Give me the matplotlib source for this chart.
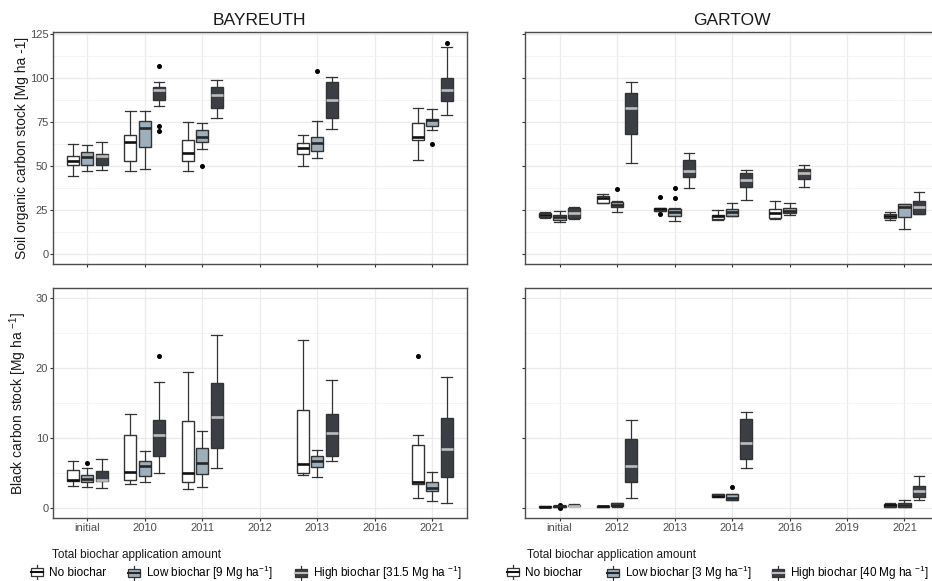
import matplotlib
matplotlib.use("Agg")
from matplotlib import pyplot as plt
from matplotlib.legend_handler import HandlerBase
from matplotlib.patches import Rectangle, Patch
from matplotlib.lines import Line2D

plt.rcParams['font.family'] = ['Liberation Sans', 'DejaVu Sans']
plt.rcParams['mathtext.fontset'] = 'custom'
plt.rcParams['mathtext.rm'] = 'Liberation Sans'
plt.rcParams['mathtext.default'] = 'regular'

# ---- data (whisker low, Q1, median, Q3, whisker high) ----
bay_years = ["initial", "2010", "2011", "2012", "2013", "2016", "2021"]
bay_present = ["initial", "2010", "2011", "2013", "2021"]
gar_years = ["initial", "2012", "2013", "2014", "2016", "2019", "2021"]
gar_soc_present = ["initial", "2012", "2013", "2014", "2016", "2021"]
gar_bc_present = ["initial", "2012", "2014", "2021"]

bay_soc_none = [[44.5, 50.5, 52.6, 55.7, 62.3], [47.1, 53.0, 63.3, 67.5, 81.3],
                [47.1, 53.0, 57.2, 65.0, 75.0], [50.2, 56.8, 60.0, 62.9, 67.6],
                [53.4, 64.6, 66.7, 74.3, 83.2]]
bay_soc_low = [[47.1, 50.5, 55.3, 57.8, 61.6], [48.1, 60.8, 71.8, 75.4, 81.3],
               [59.5, 63.3, 66.3, 70.3, 74.3], [54.3, 58.5, 62.9, 66.3, 75.4],
               [70.3, 72.8, 76.0, 76.8, 82.5]]
bay_soc_high = [[47.5, 50.7, 55.7, 56.8, 63.3], [83.8, 87.6, 92.9, 94.8, 97.7],
                [77.5, 82.8, 90.4, 94.8, 99.0], [70.9, 77.0, 87.6, 97.5, 100.3],
                [78.7, 87.0, 93.3, 99.9, 117.6]]
bay_soc_fl_none = [[], [], [], [], []]
bay_soc_fl_low = [[], [], [50.2], [103.7], [62.3]]
bay_soc_fl_high = [[], [106.6, 72.8, 69.9], [], [], [119.7]]

bay_bc_none = [[3.2, 3.9, 4.1, 5.4, 6.8], [3.5, 4.1, 5.2, 10.4, 13.4],
               [2.7, 3.7, 5.0, 12.4, 19.5], [4.7, 5.0, 6.3, 14.0, 24.0],
               [1.4, 3.5, 3.7, 9.0, 10.4]]
bay_bc_low = [[3.0, 3.7, 4.2, 4.7, 5.7], [3.7, 4.6, 6.1, 6.7, 8.2],
              [3.0, 4.9, 6.5, 8.6, 11.1], [4.4, 5.9, 6.8, 7.4, 8.3],
              [1.0, 2.4, 2.9, 3.7, 5.2]]
bay_bc_high = [[2.9, 3.9, 4.1, 5.3, 7.0], [5.1, 7.4, 10.4, 12.6, 18.1],
               [5.8, 8.6, 13.1, 17.9, 24.7], [6.8, 7.5, 10.8, 13.4, 18.3],
               [0.8, 4.4, 8.5, 12.9, 18.7]]
bay_bc_fl_none = [[], [], [], [], [21.8]]
bay_bc_fl_low = [[6.5], [], [], [], []]
bay_bc_fl_high = [[], [21.8], [], [], []]

gar_soc_none = [[20.5, 20.9, 22.0, 23.0, 23.6], [28.7, 29.1, 31.5, 33.1, 33.8],
                [24.1, 24.1, 25.3, 26.2, 26.2], [19.2, 19.6, 21.3, 22.2, 24.9],
                [20.0, 20.3, 23.0, 25.3, 30.0], [19.2, 20.3, 21.5, 22.8, 23.6]]
gar_soc_low = [[17.9, 19.4, 21.1, 22.2, 24.1], [23.8, 26.6, 27.9, 29.6, 30.2],
               [18.4, 21.7, 23.6, 25.7, 25.8], [21.5, 21.5, 23.8, 25.7, 28.9],
               [21.9, 23.2, 24.3, 25.8, 28.9], [13.9, 21.1, 26.4, 28.1, 28.5]]
gar_soc_high = [[20.0, 20.3, 23.0, 26.2, 26.4], [51.9, 68.0, 83.2, 91.4, 97.7],
                [37.4, 43.9, 47.3, 53.4, 57.6], [30.6, 38.0, 42.0, 46.0, 47.9],
                [38.2, 42.4, 46.2, 48.5, 50.7], [22.4, 22.4, 26.4, 29.8, 35.0]]
gar_soc_fl_none = [[], [], [32.5, 22.4], [], [], []]
gar_soc_fl_low = [[], [36.7], [37.6, 31.7], [], [], []]
gar_soc_fl_high = [[], [], [], [], [], []]

gar_bc_none = [[0.1, 0.14, 0.19, 0.24, 0.3], [0.19, 0.19, 0.26, 0.33, 0.33],
               [1.6, 1.6, 1.8, 2.0, 2.0], [0.15, 0.19, 0.43, 0.6, 0.7]]
gar_bc_low = [[0.1, 0.19, 0.29, 0.38, 0.5], [0.19, 0.24, 0.48, 0.67, 0.76],
              [1.2, 1.2, 1.5, 2.05, 2.05], [0.1, 0.14, 0.48, 0.8, 1.2]]
gar_bc_high = [[0.24, 0.3, 0.38, 0.48, 0.6], [1.4, 3.8, 6.1, 9.9, 12.6],
               [5.7, 7.1, 9.3, 12.8, 13.8], [1.2, 1.6, 2.4, 3.1, 4.6]]
gar_bc_fl_none = [[], [], [], []]
gar_bc_fl_low = [[0.45, 0.05], [], [3.0], []]
gar_bc_fl_high = [[], [], [], []]

bay_labels = ["No biochar", "Low biochar [9 Mg ha$^{-1}$]", "High biochar [31.5 Mg ha $^{-1}$]"]
gar_labels = ["No biochar", "Low biochar [3 Mg ha$^{-1}$]", "High biochar [40 Mg ha $^{-1}$]"]

# ---- styles ----
fills = ["white", "#9eafbc", "#3b3f45"]
medcols = ["#111111", "#262626", "#bdbdbd"]
edge = "#333333"
offsets = [-0.25, 0.0, 0.25]
W, H = 932, 581


def draw_panel(ax, years, present, groups, fliers):
    for k in range(3):
        stats, pos = [], []
        for j, yr in enumerate(present):
            lo, q1, med, q3, hi = groups[k][j]
            stats.append(dict(whislo=lo, q1=q1, med=med, q3=q3, whishi=hi,
                              fliers=fliers[k][j]))
            pos.append(years.index(yr) + 1 + offsets[k])
        ax.bxp(stats, positions=pos, widths=0.21, capwidths=0.18,
               patch_artist=True, manage_ticks=False,
               boxprops=dict(facecolor=fills[k], edgecolor=edge, linewidth=1.0),
               medianprops=dict(color=medcols[k], linewidth=1.9),
               whiskerprops=dict(color=edge, linewidth=0.9),
               capprops=dict(color=edge, linewidth=0.9),
               flierprops=dict(marker='o', markersize=2.6, markerfacecolor='black',
                               markeredgecolor='black'))
    ax.set_xlim(0.4, 7.6)
    ax.set_xticks(range(1, 8))
    ax.set_xticklabels(years)
    ax.set_axisbelow(True)
    ax.grid(which='major', color='#ebebeb', linewidth=0.9)
    ax.grid(which='minor', axis='y', color='#f3f3f3', linewidth=0.6)
    ax.tick_params(which='major', length=2.2, width=0.8, color='#333333',
                   labelsize=8, labelcolor='#4d4d4d', pad=1)
    ax.tick_params(which='minor', length=0)
    for s in ax.spines.values():
        s.set_color('#4d4d4d')
        s.set_linewidth(1.0)


class BoxKey(HandlerBase):
    def __init__(self, fc, mc):
        super().__init__()
        self.fc = fc
        self.mc = mc

    def create_artists(self, legend, orig_handle, xdescent, ydescent,
                       width, height, fontsize, trans):
        x0, y0 = -xdescent, -ydescent
        cx = x0 + width / 2
        wl = Line2D([cx, cx], [y0 - 0.3 * height, y0 + 1.3 * height], color=edge, lw=0.9)
        box = Rectangle((x0, y0 + 0.05 * height), width, 0.9 * height,
                        facecolor=self.fc, edgecolor=edge, lw=0.9)
        md = Line2D([x0, x0 + width], [y0 + height / 2] * 2, color=self.mc, lw=1.5)
        for a in (wl, box, md):
            a.set_transform(trans)
        return [wl, box, md]


def add_legend(fig, labels, key_x, x_title):
    # one legend per entry so each key sits where it does in the original
    for k in range(3):
        h = Patch()
        fig.legend([h], [labels[k]], handler_map={h: BoxKey(fills[k], medcols[k])},
                   frameon=False, loc='center left',
                   bbox_to_anchor=(key_x[k] / W, 1 - 573 / H),
                   fontsize=8.5, handlelength=1.0, handleheight=0.75,
                   handletextpad=0.5, borderpad=0, borderaxespad=0)
    fig.text(x_title / W, 1 - 555 / H, "Total biochar application amount",
             fontsize=8.5, ha='left', va='center', color='#1a1a1a')


fig = plt.figure(figsize=(W / 100, H / 100), dpi=100)
wdt = 414 / W
ax1 = fig.add_axes([52.7 / W, 1 - 264.3 / H, wdt, 232 / H])
ax2 = fig.add_axes([525 / W, 1 - 264.3 / H, wdt, 232 / H])
ax3 = fig.add_axes([52.7 / W, 1 - 518.3 / H, wdt, 230 / H])
ax4 = fig.add_axes([525 / W, 1 - 518.3 / H, wdt, 230 / H])

draw_panel(ax1, bay_years, bay_present, [bay_soc_none, bay_soc_low, bay_soc_high],
           [bay_soc_fl_none, bay_soc_fl_low, bay_soc_fl_high])
draw_panel(ax2, gar_years, gar_soc_present, [gar_soc_none, gar_soc_low, gar_soc_high],
           [gar_soc_fl_none, gar_soc_fl_low, gar_soc_fl_high])
draw_panel(ax3, bay_years, bay_present, [bay_bc_none, bay_bc_low, bay_bc_high],
           [bay_bc_fl_none, bay_bc_fl_low, bay_bc_fl_high])
draw_panel(ax4, gar_years, gar_bc_present, [gar_bc_none, gar_bc_low, gar_bc_high],
           [gar_bc_fl_none, gar_bc_fl_low, gar_bc_fl_high])

for ax in (ax1, ax2):
    ax.set_ylim(-6, 126)
    ax.set_yticks([0, 25, 50, 75, 100, 125])
    ax.set_yticks([12.5, 37.5, 62.5, 87.5, 112.5], minor=True)
    ax.tick_params(axis='x', labelbottom=False)
for ax in (ax3, ax4):
    ax.set_ylim(-1.45, 31.45)
    ax.set_yticks([0, 10, 20, 30])
    ax.set_yticks([5, 15, 25], minor=True)
for ax in (ax2, ax4):
    ax.tick_params(axis='y', labelleft=False)

ax1.set_title("BAYREUTH", fontsize=12.6, pad=5, color='#1a1a1a')
ax2.set_title("GARTOW", fontsize=12.6, pad=5, color='#1a1a1a')
ax1.set_ylabel("Soil organic carbon stock [Mg ha -1]", fontsize=10, color='#1a1a1a')
ax3.set_ylabel("Black carbon stock [Mg ha $^{-1}$]", fontsize=10, color='#1a1a1a')
ax1.yaxis.set_label_coords(-0.058, 0.5)
ax3.yaxis.set_label_coords(-0.058, 0.5)

add_legend(fig, bay_labels, [31, 128, 295], 51.7)
add_legend(fig, gar_labels, [507, 607, 772], 526.7)

fig.savefig("out.png", dpi=100)
